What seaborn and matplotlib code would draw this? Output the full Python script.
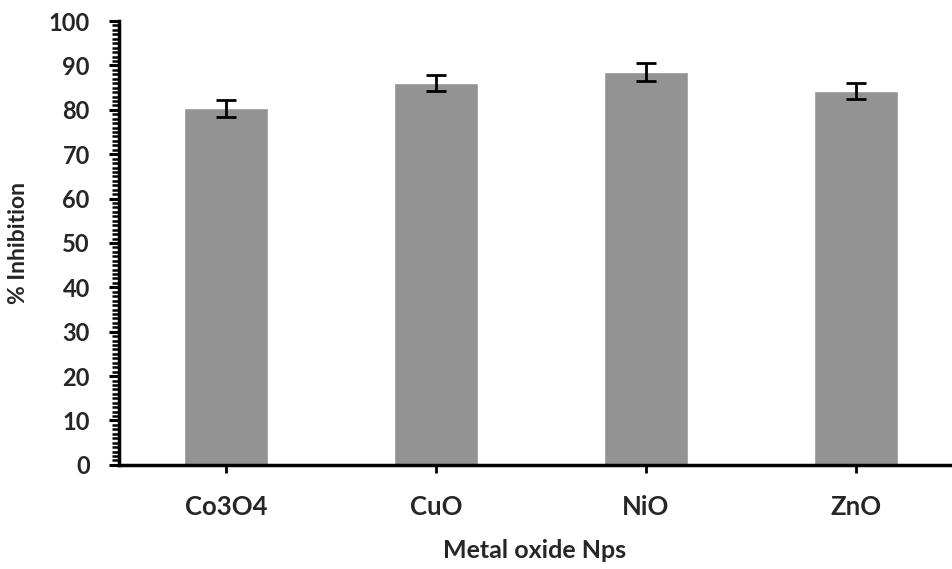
import matplotlib
matplotlib.use("Agg")
import matplotlib.pyplot as plt
from matplotlib.ticker import MultipleLocator
import seaborn as sns
import pandas as pd

categories = ["Co3O4", "CuO", "NiO", "ZnO"]
inhibition = [80.3, 86.1, 88.6, 84.2]
errors = [2.0, 1.8, 2.0, 1.8]

sns.set_theme(style="white")
plt.rcParams['font.family'] = ['Lato', 'DejaVu Sans']

df = pd.DataFrame({"oxide": categories, "inhibition": inhibition, "err": errors})

fig, ax = plt.subplots(figsize=(9.52, 5.69), dpi=100)
fig.subplots_adjust(left=0.125, right=0.998, top=0.963, bottom=0.183)

sns.barplot(data=df, x="oxide", y="inhibition", color="#939393", saturation=1,
            width=0.40, errorbar=None, ax=ax)
ax.errorbar(x=range(len(categories)), y=df["inhibition"], yerr=df["err"],
            fmt="none", ecolor="black", elinewidth=2, capsize=7, capthick=2)

ax.set_ylim(0, 100)
ax.set_xlim(-0.51, 3.45)
ax.yaxis.set_major_locator(MultipleLocator(10))
ax.yaxis.set_minor_locator(MultipleLocator(1))

for s in ["top", "right"]:
    ax.spines[s].set_visible(False)
for s in ["left", "bottom"]:
    ax.spines[s].set_linewidth(2.5)
    ax.spines[s].set_color("black")

ax.tick_params(axis="y", which="major", direction="out", length=7, width=2.2,
               labelsize=17, pad=14, left=True, color="black")
ax.tick_params(axis="y", which="minor", direction="out", length=5, width=1.8,
               left=True, color="black")
ax.tick_params(axis="x", which="major", direction="out", length=6, width=2,
               labelsize=18.5, pad=16, bottom=True, color="black")
for lab in ax.get_yticklabels():
    lab.set_fontweight("bold")
for lab in ax.get_xticklabels():
    lab.set_fontweight("bold")

ax.set_ylabel("% Inhibition", fontsize=16.5, fontweight="bold", labelpad=14)
ax.set_xlabel("Metal oxide Nps", fontsize=18, fontweight="bold", labelpad=14)

fig.savefig("out.png", dpi=100, facecolor="white")
